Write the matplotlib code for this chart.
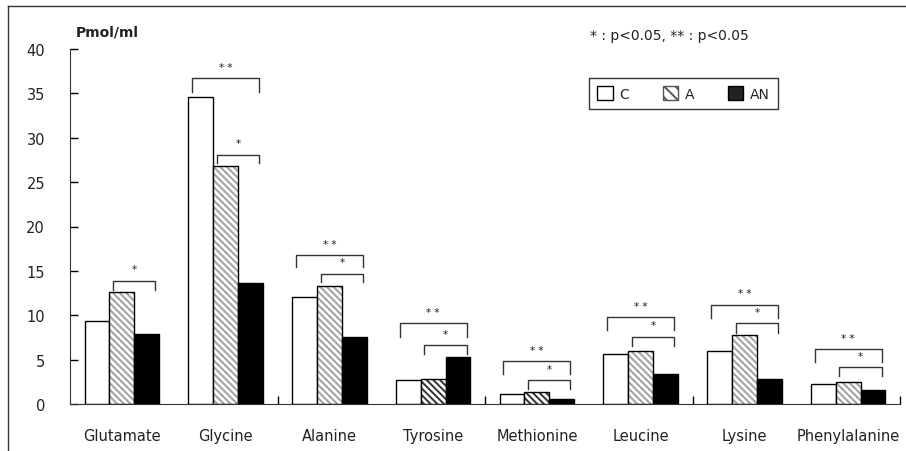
import matplotlib
matplotlib.use("Agg")
import matplotlib.pyplot as plt
from matplotlib.lines import Line2D
from matplotlib.patches import Patch
import numpy as np

amino = ["Glutamate", "Glycine", "Alanine", "Tyrosine", "Methionine",
         "Leucine", "Lysine", "Phenylalanine"]
c_vals = [9.3, 34.6, 12.1, 2.7, 1.1, 5.6, 6.0, 2.3]
a_vals = [12.6, 26.8, 13.3, 2.8, 1.35, 6.0, 7.8, 2.5]
an_vals = [7.9, 13.6, 7.5, 5.3, 0.6, 3.4, 2.8, 1.6]
groups = ["C", "A", "AN"]

# (category, first bar, last bar, bracket top, leg bottom, label)
brackets = [
    (0, 1, 2, 13.9, 12.9, "*"),
    (1, 0, 2, 36.7, 35.1, "* *"),
    (1, 1, 2, 28.1, 27.2, "*"),
    (2, 0, 2, 16.8, 15.4, "* *"),
    (2, 1, 2, 14.7, 13.7, "*"),
    (3, 0, 2, 9.1, 7.5, "* *"),
    (3, 1, 2, 6.6, 5.6, "*"),
    (4, 0, 2, 4.8, 3.4, "* *"),
    (4, 1, 2, 2.7, 1.7, "*"),
    (5, 0, 2, 9.8, 8.3, "* *"),
    (5, 1, 2, 7.6, 6.5, "*"),
    (6, 0, 2, 11.2, 9.7, "* *"),
    (6, 1, 2, 9.1, 8.0, "*"),
    (7, 0, 2, 6.2, 4.7, "* *"),
    (7, 1, 2, 4.2, 3.1, "*"),
]

plt.rcParams["font.family"] = ["DejaVu Sans"]
plt.rcParams["hatch.linewidth"] = 1.4
plt.rcParams["text.color"] = "#222222"
plt.rcParams["xtick.labelcolor"] = "#222222"
plt.rcParams["ytick.labelcolor"] = "#222222"

fig = plt.figure(figsize=(9.06, 4.52), dpi=100)
ax = fig.add_axes([70 / 906, 1 - 405 / 452, 830 / 906, 355 / 452])

x = np.arange(len(amino))
w = 0.24
offs = [-w, 0, w]

ax.bar(x + offs[0], c_vals, w, color="white", edgecolor="black", linewidth=1)
# hatch drawn in grey, outline drawn separately in black
hatch_cols = ["#a0a0a0", "#a0a0a0", "#a0a0a0", "#333333", "#333333",
              "#a0a0a0", "#a0a0a0", "#a0a0a0"]
for i in range(len(amino)):
    ax.bar(x[i] + offs[1], a_vals[i], w, color="white", edgecolor=hatch_cols[i],
           hatch="\\\\\\\\\\", linewidth=0)
ax.bar(x + offs[1], a_vals, w, fill=False, edgecolor="black", linewidth=1)
ax.bar(x + offs[2], an_vals, w, color="black", edgecolor="black", linewidth=1)

for cat, b0, b1, top, bot, lab in brackets:
    xl = x[cat] + offs[b0] - w / 2 + 0.15 * w
    xr = x[cat] + offs[b1] + w / 2 - 0.15 * w
    ax.plot([xl, xl, xr, xr], [bot, top, top, bot], color="#333333", lw=1)
    ax.text((xl + xr) / 2, top + 0.7, lab, ha="center", va="bottom", fontsize=7.5)

ax.set_xlim(-0.5, 7.5)
ax.set_ylim(0, 40)
ax.set_yticks(range(0, 41, 5))
ax.set_xticks(x)
ax.set_xticklabels(amino)
ax.set_xticks([1.5, 3.5, 5.5, 7.5], minor=True)
ax.tick_params(axis="x", which="major", length=0, pad=17, labelsize=10.5)
ax.tick_params(axis="x", which="minor", direction="in", length=6, width=1)
ax.tick_params(axis="y", direction="in", length=6, width=1, pad=18, labelsize=10.5)
for s in ["top", "right"]:
    ax.spines[s].set_visible(False)
for s in ["left", "bottom"]:
    ax.spines[s].set_color("#333333")

fig.text(76 / 906, 1 - 33 / 452, "Pmol/ml", fontsize=10, fontweight="bold",
         va="center", ha="left")
fig.text(590 / 906, 1 - 36 / 452, "* : p<0.05, ** : p<0.05", fontsize=10,
         va="center", ha="left")

handles = [
    Patch(facecolor="white", edgecolor="black", linewidth=1),
    Patch(facecolor="white", edgecolor="#555555", hatch="\\\\\\", linewidth=1),
    Patch(facecolor="#222222", edgecolor="black", linewidth=1),
]
leg = fig.legend(handles, groups, loc="upper left", ncol=3,
                 bbox_to_anchor=(589 / 906, 1 - 79 / 452), borderaxespad=0,
                 fancybox=False, edgecolor="black", fontsize=10,
                 handlelength=1.1, handleheight=1.1, columnspacing=2.4,
                 handletextpad=0.5, borderpad=0.6)
leg.get_frame().set_linewidth(1)

# figure frame (left and top edges visible)
fig.add_artist(Line2D([8 / 906, 8 / 906], [0, 1 - 7 / 452], color="#333333", lw=1))
fig.add_artist(Line2D([8 / 906, 1], [1 - 7 / 452, 1 - 7 / 452], color="#333333", lw=1))

fig.savefig("out.png", dpi=100)
